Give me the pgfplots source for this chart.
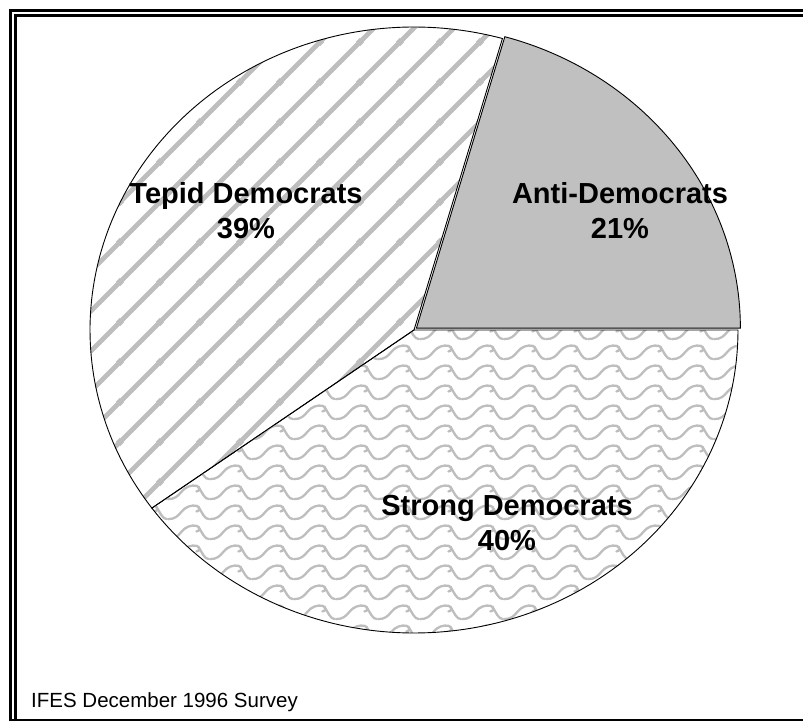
\documentclass[border=0pt]{standalone}
\usepackage{pgfplots}
\pgfplotsset{compat=1.18}
\usepackage{fontspec}
\setmainfont{Liberation Sans}
\usetikzlibrary{patterns.meta}
\definecolor{slicegray}{RGB}{192,192,192}
\definecolor{patgray}{RGB}{190,190,190}

\tikzdeclarepattern{
  name=diagstripes,
  type=uncolored,
  bounding box={(0pt,0pt) and (40pt,40pt)},
  tile size={(40pt,40pt)},
  code={
    \draw[line width=5pt] (-5pt,-5pt) -- (45pt,45pt);
    \draw[line width=5pt] (-45pt,-5pt) -- (5pt,45pt);
    \draw[line width=5pt] (35pt,-5pt) -- (85pt,45pt);
  }
}
\tikzdeclarepattern{
  name=waves,
  type=uncolored,
  bounding box={(0pt,0pt) and (42pt,20pt)},
  tile size={(42pt,20pt)},
  code={
    \draw[line width=2.4pt, line cap=round, line join=round]
      (0pt,3pt) .. controls (7pt,3pt) and (10pt,6pt) .. (14pt,11pt)
      .. controls (18pt,16pt) and (24pt,18pt) .. (29pt,17pt)
      .. controls (33pt,16pt) and (33pt,11pt) .. (29pt,11pt);
    \draw[line width=2.4pt, line cap=round]
      (31pt,16pt) .. controls (35pt,10pt) and (37pt,3pt) .. (42pt,3pt);
  }
}

% survey shares (percent)
\def\vAnti{20.6}
\def\vTepid{39.4}
\def\vStrong{40.0}

\begin{document}
\begin{tikzpicture}
\pgfmathsetmacro{\aA}{3.6*\vAnti}
\pgfmathsetmacro{\aB}{\aA+3.6*\vTepid}
\pgfmathsetmacro{\aC}{\aB+3.6*\vStrong}
\begin{axis}[x=1pt, y=1pt, xmin=0, xmax=803, ymin=0, ymax=721,
  hide axis, clip=false, at={(0pt,0pt)}, anchor=south west]
% Tepid Democrats
\addplot[draw=black, line width=0.9pt, pattern=diagstripes, pattern color=patgray,
  domain=\aA:\aB, samples=120, variable=\t]
  ({414+324*cos(\t)},{391+303*sin(\t)}) -- (axis cs:414,391) -- cycle;
% Strong Democrats
\addplot[draw=black, line width=0.9pt, pattern=waves, pattern color=patgray,
  domain=\aB:\aC, samples=120, variable=\t]
  ({414+324*cos(\t)},{391+303*sin(\t)}) -- (axis cs:414,391) -- cycle;
% Anti-Democrats (slightly exploded)
\addplot[draw=black, line width=0.9pt, fill=slicegray,
  domain=0:\aA, samples=80, variable=\t]
  ({416.4+324*cos(\t)},{392.8+303*sin(\t)}) -- (axis cs:416.4,392.8) -- cycle;

\tikzset{lbl/.style={anchor=base, inner sep=0pt, font=\bfseries\fontsize{29}{35}\selectfont}}
\node[lbl] at (axis cs:246,517) {Tepid Democrats};
\node[lbl] at (axis cs:246,482) {39\%};
\node[lbl] at (axis cs:620,517) {Anti-Democrats};
\node[lbl] at (axis cs:620,482) {21\%};
\node[lbl] at (axis cs:507,206) {Strong Democrats};
\node[lbl] at (axis cs:507,171) {40\%};
\node[anchor=base west, inner sep=0pt, font=\fontsize{20.5}{24}\selectfont] at (axis cs:31,14) {IFES December 1996 Survey};
\end{axis}
\draw[line width=2.5pt, line join=miter] (10.3pt,0pt) -- (10.3pt,710.7pt) -- (803pt,710.7pt);
\draw[line width=2.5pt, line join=miter] (15.3pt,0pt) -- (15.3pt,705.7pt) -- (803pt,705.7pt);
\draw[line width=2.4pt] (9pt,1.2pt) -- (803pt,1.2pt);
\pgfresetboundingbox
\path (0pt,0pt) rectangle (803pt,721pt);
\end{tikzpicture}
\end{document}
